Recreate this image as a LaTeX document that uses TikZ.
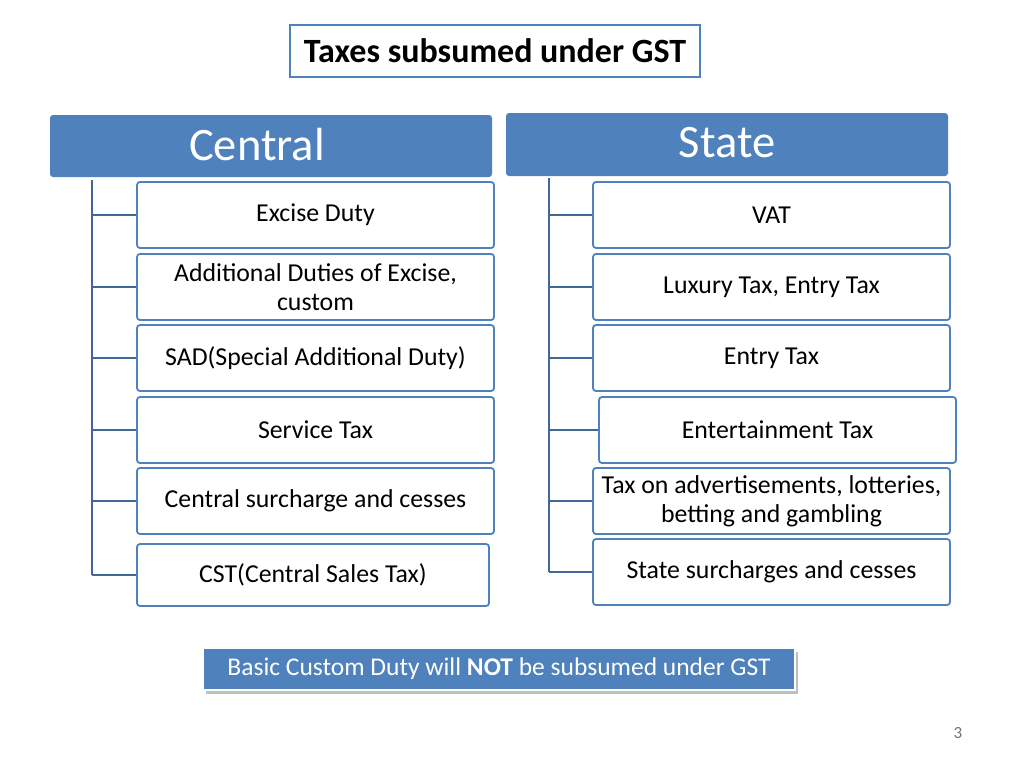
\documentclass[tikz,border=0pt]{standalone}
\usepackage{fontspec}
\setmainfont{Carlito}
\definecolor{bl}{HTML}{4F81BD}
\begin{document}
\begin{tikzpicture}[x=1pt,y=-1pt,
  box/.style={draw=bl,line width=1.8pt,rounded corners=3pt,fill=white,align=center,font=\fontsize{25.8}{29}\selectfont},
  hdr/.style={fill=bl,rounded corners=3pt},
  ln/.style={draw=bl!80!black,line width=1.5pt}]
\useasboundingbox (0,0) rectangle (1024,768);
\def\bx#1#2#3#4#5#6{\node[box,minimum width=#4-#2,minimum height=#5-#3,inner sep=0pt] (#1) at ({(#2+#4)/2},{(#3+#5)/2}) {#6};}
\node[draw=bl,line width=1.5pt,minimum width=410,minimum height=52,font=\bfseries\fontsize{34}{38}\selectfont] (title) at (495,51) {Taxes subsumed under GST};
\node[hdr,minimum width=442,minimum height=62] (c) at (271,146) {};
\node[text=white,font=\fontsize{46.5}{52}\selectfont] (ct) at (257,145) {Central};
\node[hdr,minimum width=442,minimum height=63] (s) at (727,144.5) {};
\node[text=white,font=\fontsize{46.5}{52}\selectfont] (st) at (727,143) {State};
\coordinate (lt) at (92,180); \coordinate (lb) at (92,575);
\coordinate (rt) at (549,178); \coordinate (rb) at (549,572);
\draw[ln] (lt)--(lb); \draw[ln] (rt)--(rb);
\bx{l1}{137}{182}{494}{248}{Excise Duty}
\bx{l2}{137}{254}{494}{320}{Additional Duties of Excise,\\custom}
\bx{l3}{137}{325}{494}{391}{SAD(Special Additional Duty)}
\bx{l4}{137}{397}{494}{463}{Service Tax}
\bx{l5}{137}{468}{494}{534}{Central surcharge and cesses}
\bx{l6}{137}{544}{489}{606}{CST(Central Sales Tax)}
\bx{r1}{593}{182}{950}{248}{VAT}
\bx{r2}{593}{254}{950}{320}{Luxury Tax, Entry Tax}
\bx{r3}{593}{325}{950}{391}{Entry Tax}
\bx{r4}{599}{397}{956}{463}{Entertainment Tax}
\bx{r5}{593}{468}{950}{534}{Tax on advertisements, lotteries,\\betting and gambling}
\bx{r6}{593}{539}{950}{605}{State surcharges and cesses}
\foreach \n in {l1,l2,l3,l4,l5,l6}{\draw[ln] (92,0 |- \n.west) -- (\n.west);}
\foreach \n in {r1,r2,r3,r4,r5,r6}{\draw[ln] (549,0 |- \n.west) -- (\n.west);}
\fill[black!25] (206,652) rectangle (798,694);
\node[fill=bl,draw=white,line width=1.5pt,minimum width=592,minimum height=42,text=white,font=\fontsize{25.5}{28}\selectfont] (note) at (499,669) {Basic Custom Duty will \textbf{NOT} be subsumed under GST};
\node[text=black!55,font=\fontsize{17}{19}\selectfont] (pg) at (958,733) {3};
\end{tikzpicture}
\end{document}
